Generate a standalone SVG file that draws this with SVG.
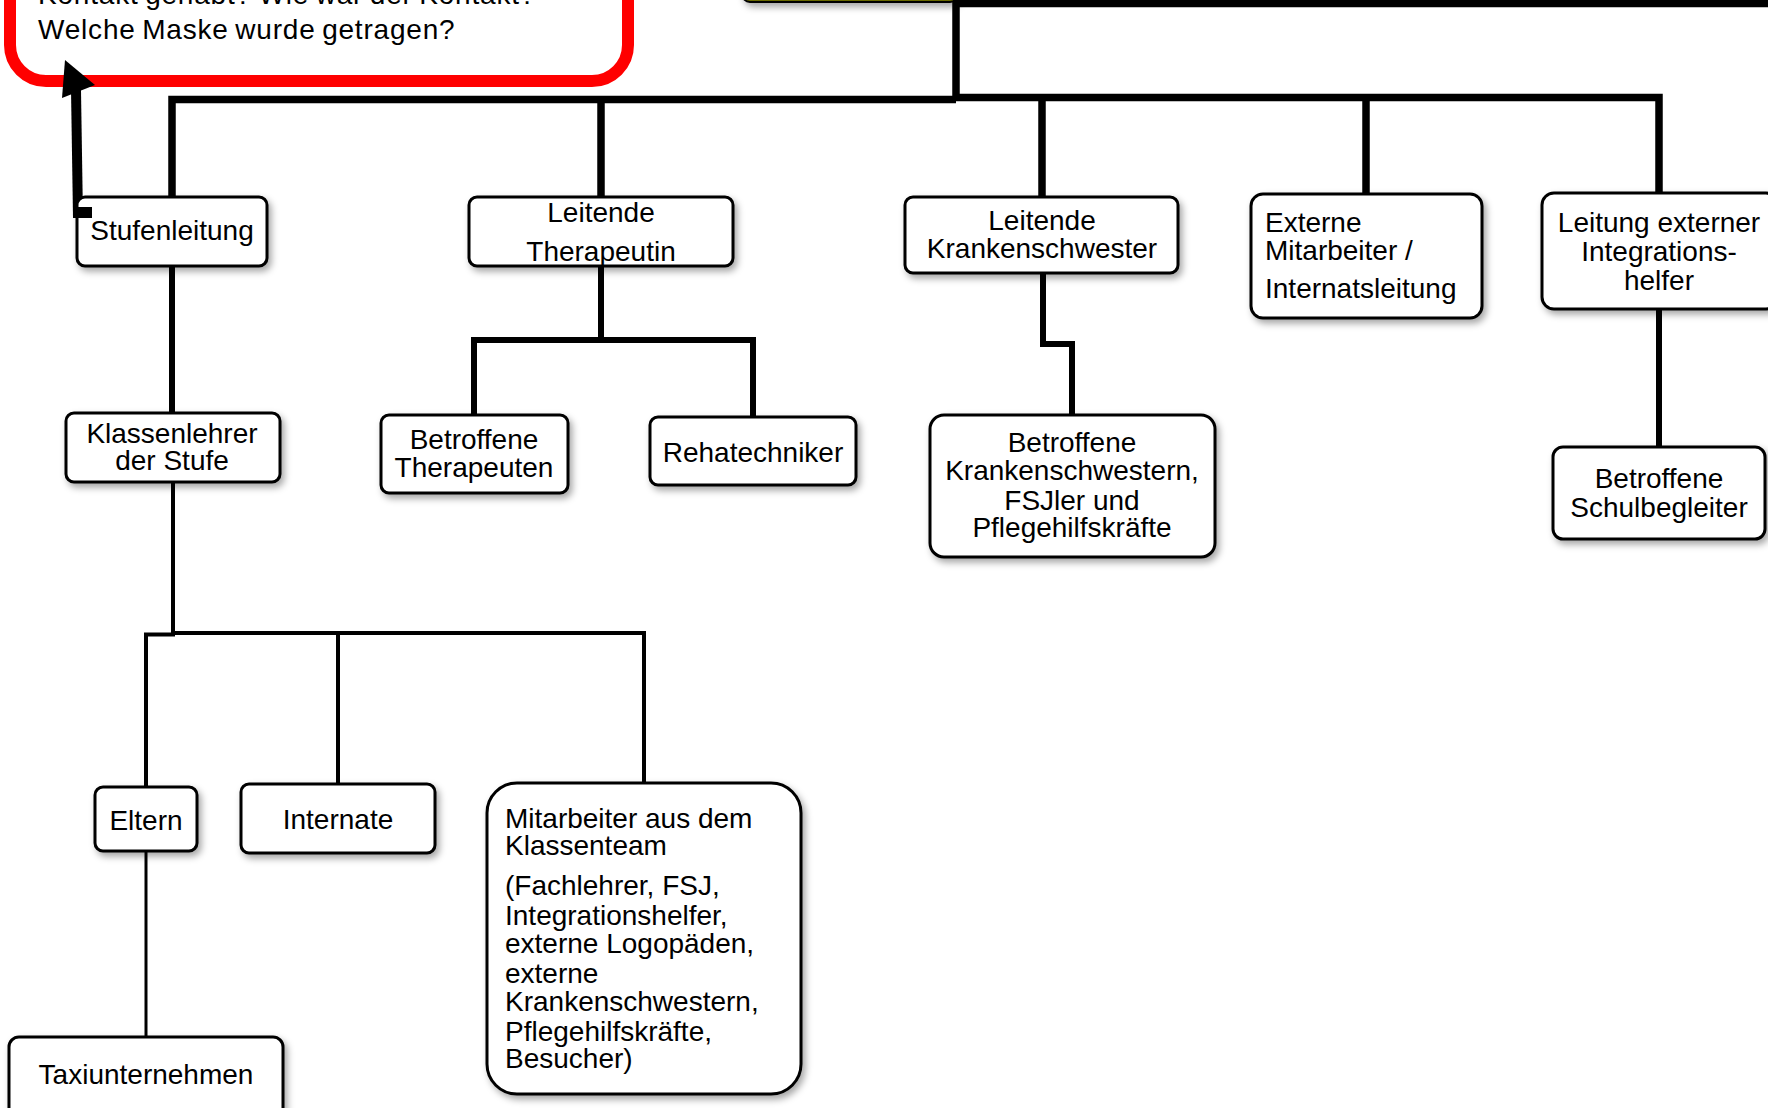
<svg xmlns="http://www.w3.org/2000/svg" width="1768" height="1108" viewBox="0 0 1768 1108">
<defs>
<filter id="sh" x="-20%" y="-20%" width="140%" height="150%">
<feDropShadow dx="3" dy="4" stdDeviation="3.5" flood-color="#000" flood-opacity="0.35"/>
</filter>
<style>
.box{fill:#fff;stroke:#000;stroke-width:3;filter:url(#sh)}
.t{font-family:"Liberation Sans",Arial,Helvetica,sans-serif;font-size:28px;fill:#000}
.c{text-anchor:middle}
.l1{fill:none;stroke:#000;stroke-width:7.5}
.l2{fill:none;stroke:#000;stroke-width:6}
.l3{fill:none;stroke:#000;stroke-width:4}
.l4{fill:none;stroke:#000;stroke-width:3}
</style>
</defs>
<rect width="1768" height="1108" fill="#fff"/>

<g id="connectors">
<path class="l1" d="M953 3.5 H1768"/>
<path class="l1" d="M956 0 V99.5"/>
<path class="l1" d="M172 197 V99.5 H956"/>
<path class="l1" d="M956 97.5 H1659 V193"/>
<path class="l1" d="M601 99 V197"/>
<path class="l1" d="M1042 97.5 V197"/>
<path class="l1" d="M1366 97.5 V194"/>
<path class="l2" d="M172 266 V413"/>
<path class="l2" d="M601 266 V340"/>
<path class="l2" d="M474 415 V340 H753 V417"/>
<path class="l2" d="M1043 273 V344 H1072 V415"/>
<path class="l2" d="M1659 309 V447"/>
<path class="l3" d="M173 482 V633 H644 V783"/>
<path class="l3" d="M175 634.5 H146 V787"/>
<path class="l3" d="M338 633 V784"/>
<path class="l4" d="M146 851 V1037"/>
</g>

<g id="node-olive">
<rect x="742" y="-40" width="216" height="42" rx="8" fill="#6b6b00" stroke="#000" stroke-width="2" filter="url(#sh)"/>
</g>

<g id="node-question">
<rect x="10" y="-120" width="618" height="201" rx="36" fill="#fff" stroke="#ff0000" stroke-width="12"/>
<text class="t" x="38" y="4" style="letter-spacing:0.8px;word-spacing:-2px">Kontakt gehabt? Wie war der Kontakt?</text>
<text class="t" x="38" y="39" style="letter-spacing:0.8px;word-spacing:-2px">Welche Maske wurde getragen?</text>
</g>

<g id="arrow">
<path d="M78 218 L76 90" fill="none" stroke="#000" stroke-width="10"/>
<polygon points="65,60 62,98 95,85" fill="#000"/>
</g>

<g id="node-stufenleitung">
<rect class="box" x="77" y="197" width="190" height="69" rx="8"/>
<rect x="73" y="207" width="19" height="11" fill="#000"/>
<text class="t c" x="172" y="240">Stufenleitung</text>
</g>

<g id="node-leitende-therapeutin">
<rect class="box" x="469" y="197" width="264" height="69" rx="8"/>
<text class="t c" x="601" y="222">Leitende</text>
<text class="t c" x="601" y="261">Therapeutin</text>
</g>

<g id="node-leitende-krankenschwester">
<rect class="box" x="905" y="197" width="273" height="76" rx="8"/>
<text class="t c" x="1042" y="230">Leitende</text>
<text class="t c" x="1042" y="258">Krankenschwester</text>
</g>

<g id="node-externe-mitarbeiter">
<rect class="box" x="1251" y="194" width="231" height="124" rx="12"/>
<text class="t" x="1265" y="232">Externe</text>
<text class="t" x="1265" y="260">Mitarbeiter /</text>
<text class="t" x="1265" y="298">Internatsleitung</text>
</g>

<g id="node-leitung-integrationshelfer">
<rect class="box" x="1542" y="193" width="236" height="116" rx="12"/>
<text class="t c" x="1659" y="232">Leitung externer</text>
<text class="t c" x="1659" y="261">Integrations-</text>
<text class="t c" x="1659" y="290">helfer</text>
</g>

<g id="node-klassenlehrer">
<rect class="box" x="66" y="413" width="214" height="69" rx="8"/>
<text class="t c" x="172" y="443">Klassenlehrer</text>
<text class="t c" x="172" y="470">der Stufe</text>
</g>

<g id="node-betroffene-therapeuten">
<rect class="box" x="381" y="415" width="187" height="78" rx="8"/>
<text class="t c" x="474" y="449">Betroffene</text>
<text class="t c" x="474" y="477">Therapeuten</text>
</g>

<g id="node-rehatechniker">
<rect class="box" x="650" y="417" width="206" height="68" rx="8"/>
<text class="t c" x="753" y="462">Rehatechniker</text>
</g>

<g id="node-betroffene-krankenschwestern">
<rect class="box" x="930" y="415" width="285" height="142" rx="14"/>
<text class="t c" x="1072" y="452">Betroffene</text>
<text class="t c" x="1072" y="480">Krankenschwestern,</text>
<text class="t c" x="1072" y="510">FSJler und</text>
<text class="t c" x="1072" y="537">Pflegehilfskräfte</text>
</g>

<g id="node-schulbegleiter">
<rect class="box" x="1553" y="447" width="212" height="92" rx="10"/>
<text class="t c" x="1659" y="488">Betroffene</text>
<text class="t c" x="1659" y="517">Schulbegleiter</text>
</g>

<g id="node-eltern">
<rect class="box" x="95" y="787" width="102" height="64" rx="8"/>
<text class="t c" x="146" y="830">Eltern</text>
</g>

<g id="node-internate">
<rect class="box" x="241" y="784" width="194" height="69" rx="8"/>
<text class="t c" x="338" y="829">Internate</text>
</g>

<g id="node-mitarbeiter-klassenteam">
<rect class="box" x="487" y="783" width="314" height="311" rx="30"/>
<text class="t" x="505" y="828">Mitarbeiter aus dem</text>
<text class="t" x="505" y="855">Klassenteam</text>
<text class="t" x="505" y="895">(Fachlehrer, FSJ,</text>
<text class="t" x="505" y="925">Integrationshelfer,</text>
<text class="t" x="505" y="953">externe Logopäden,</text>
<text class="t" x="505" y="983">externe</text>
<text class="t" x="505" y="1011">Krankenschwestern,</text>
<text class="t" x="505" y="1041">Pflegehilfskräfte,</text>
<text class="t" x="505" y="1068">Besucher)</text>
</g>

<g id="node-taxiunternehmen">
<rect class="box" x="9" y="1037" width="274" height="90" rx="10"/>
<text class="t c" x="146" y="1084">Taxiunternehmen</text>
</g>
</svg>
